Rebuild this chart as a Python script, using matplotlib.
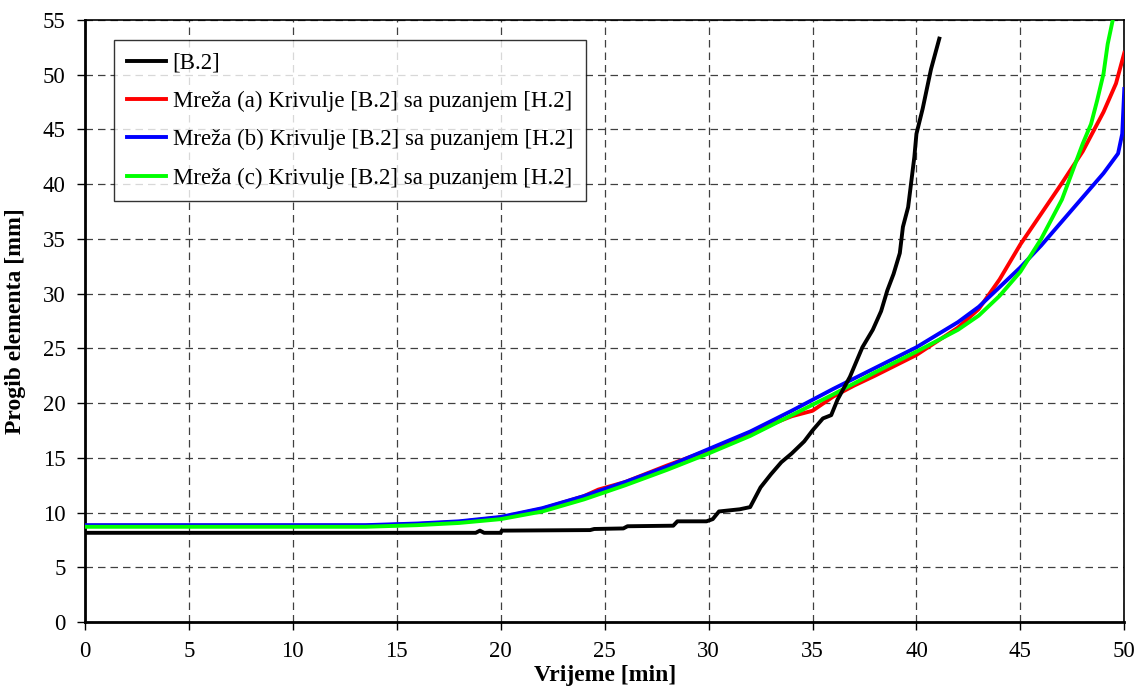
import numpy as np
import matplotlib
matplotlib.use("Agg")
import matplotlib.pyplot as plt

plt.rcParams['font.family'] = ['Liberation Serif', 'DejaVu Serif']

# [B.2]
b2_x = [0, 18.8, 19.0, 19.2, 20.0, 20.05, 24.3, 24.5, 25.9, 26.1, 28.3, 28.5, 29.9, 30.2,
        30.5, 31.5, 32.0, 32.5, 33.0, 33.5, 34.0, 34.6, 35.0, 35.5, 35.9, 36.2, 36.8, 37.4,
        37.9, 38.3, 38.6, 38.9, 39.2, 39.35, 39.6, 39.9, 40.0, 40.3, 40.7, 41.1]
b2_y = [8.15, 8.15, 8.35, 8.15, 8.15, 8.35, 8.4, 8.5, 8.55, 8.75, 8.8, 9.2, 9.2, 9.4,
        10.1, 10.3, 10.5, 12.3, 13.5, 14.6, 15.4, 16.5, 17.5, 18.6, 18.9, 20.3, 22.4, 25.1,
        26.7, 28.4, 30.3, 31.8, 33.7, 36.1, 37.9, 42.5, 44.6, 46.9, 50.5, 53.3]

# Mreža (a)
a_x = [0, 13.5, 16, 18, 20, 22, 24, 24.7, 26, 28, 30, 32, 34, 35, 36, 37, 38, 40, 42, 43,
       44, 45, 46, 47, 48, 49, 49.6, 50]
a_y = [8.8, 8.8, 8.95, 9.15, 9.55, 10.35, 11.5, 12.1, 12.8, 14.3, 15.7, 17.3, 18.8, 19.3,
       20.6, 21.6, 22.5, 24.4, 26.9, 28.6, 31.3, 34.5, 37.3, 40.1, 43.0, 46.6, 49.2, 52.0]

# Mreža (b)
b_x = [0, 13.5, 16, 18, 20, 22, 24, 26, 28, 30, 32, 34, 36, 38, 40, 42, 43, 44, 45, 46,
       47, 48, 49, 49.7, 49.9, 50]
b_y = [8.85, 8.85, 9.0, 9.2, 9.6, 10.4, 11.5, 12.8, 14.2, 15.8, 17.4, 19.3, 21.3, 23.2,
       25.1, 27.4, 28.8, 30.6, 32.4, 34.4, 36.6, 38.8, 41.0, 42.8, 44.6, 48.7]

# Mreža (c)
c_x = [0, 13.5, 16, 18, 20, 22, 24, 26, 28, 30, 32, 34, 36, 38, 40, 42, 43, 44, 45, 46,
       47, 48, 48.4, 48.7, 49.0, 49.2, 49.5, 49.6]
c_y = [8.7, 8.7, 8.85, 9.05, 9.4, 10.1, 11.2, 12.5, 13.9, 15.4, 17.0, 18.9, 20.8, 22.8,
       24.7, 26.7, 28.0, 29.8, 32.0, 35.0, 38.6, 43.7, 45.5, 47.7, 50.1, 52.8, 55.5, 57.0]

labels = ['[B.2]',
          'Mreža (a) Krivulje [B.2] sa puzanjem [H.2]',
          'Mreža (b) Krivulje [B.2] sa puzanjem [H.2]',
          'Mreža (c) Krivulje [B.2] sa puzanjem [H.2]']

fig = plt.figure(figsize=(11.39, 7.0), dpi=100)
ax = fig.add_axes([0.0746, 0.1114, 0.9125, 0.86])

lw = 2.8
ax.plot(b2_x, b2_y, color='black', lw=lw, label=labels[0], zorder=6)
ax.plot(a_x, a_y, color='#ff0000', lw=lw, label=labels[1], zorder=3)
ax.plot(b_x, b_y, color='#0000ff', lw=lw, label=labels[2], zorder=4)
ax.plot(c_x, c_y, color='#00ff00', lw=lw, label=labels[3], zorder=5)

ax.set_xlim(0, 50)
ax.set_ylim(0, 55)
ax.set_xticks(np.arange(0, 51, 5))
ax.set_yticks(np.arange(0, 56, 5))
ax.grid(True, color='0.25', linestyle=(0, (6, 4)), linewidth=0.9)
ax.tick_params(labelsize=16.5, direction='out', length=6, width=1, pad=8)

for s in ax.spines.values():
    s.set_linewidth(1.2)
ax.spines['left'].set_linewidth(2)
ax.spines['bottom'].set_linewidth(2)

ax.set_xlabel('Vrijeme [min]', fontsize=17, fontweight='bold', labelpad=2)
ax.set_ylabel('Progib elementa [mm]', fontsize=17, fontweight='bold', labelpad=12)

leg = ax.legend(loc='upper left', bbox_to_anchor=(0.028, 0.967), borderaxespad=0,
                fontsize=16.5, frameon=True, fancybox=False, edgecolor='black',
                handlelength=1.7, handletextpad=0.3, labelspacing=0.75,
                borderpad=0.55)
leg.get_frame().set_linewidth(1.0)
leg.set_zorder(10)

fig.savefig('out.png', dpi=100)
